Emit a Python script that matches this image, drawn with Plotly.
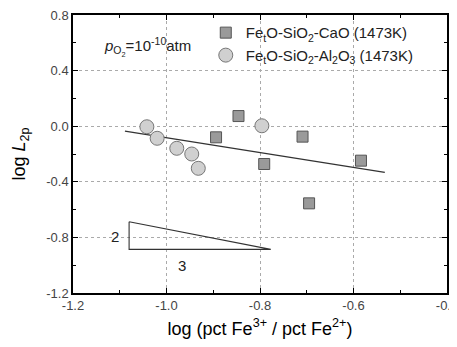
import plotly.graph_objects as go

# Data
cao_x = [-0.894, -0.846, -0.791, -0.709, -0.695, -0.584]
cao_y = [-0.08, 0.073, -0.272, -0.075, -0.555, -0.248]
al_x = [-1.042, -1.020, -0.978, -0.946, -0.932, -0.796]
al_y = [-0.004, -0.087, -0.159, -0.20, -0.303, 0.003]
fit_x = [-1.089, -0.533]
fit_y = [-0.035, -0.332]
tri_x = [-1.080, -1.080, -0.777, -1.080]
tri_y = [-0.687, -0.886, -0.886, -0.687]
x_ticks = [-1.2, -1.0, -0.8, -0.6, -0.4]
x_ticklabels = ["-1.2", "-1.0", "-0.8", "-0.6", "-0.4"]
y_ticks = [-1.2, -0.8, -0.4, 0.0, 0.4, 0.8]
y_ticklabels = ["-1.2", "-0.8", "-0.4", "0.0", "0.4", "0.8"]

FONT = "Liberation Sans, Arial, sans-serif"

fig = go.Figure()
fig.add_trace(go.Scatter(x=fit_x, y=fit_y, mode="lines",
                         line=dict(color="#333333", width=1.3), showlegend=False))
fig.add_trace(go.Scatter(x=tri_x, y=tri_y, mode="lines",
                         line=dict(color="#333333", width=1.1), showlegend=False))
fig.add_trace(go.Scatter(x=cao_x, y=cao_y, mode="markers",
                         name="Fe<sub>t</sub>O-SiO<sub>2</sub>-CaO (1473K)",
                         marker=dict(symbol="square", size=11, color="#9a9a9a",
                                     line=dict(color="#555555", width=1))))
fig.add_trace(go.Scatter(x=al_x, y=al_y, mode="markers",
                         name="Fe<sub>t</sub>O-SiO<sub>2</sub>-Al<sub>2</sub>O<sub>3</sub> (1473K)",
                         marker=dict(symbol="circle", size=14, color="#d0d0d0",
                                     line=dict(color="#777777", width=1))))

axis_common = dict(showline=True, linecolor="black", linewidth=1.5, mirror="ticks",
                   ticks="inside", ticklen=5, tickwidth=1, tickcolor="black",
                   showgrid=True, gridcolor="#aaaaaa", griddash="dot", gridwidth=1,
                   zeroline=False, automargin=False, ticklabeloverflow="allow",
                   tickfont=dict(family=FONT, size=13, color="#444444"))

fig.update_xaxes(range=[-1.2, -0.4], tickvals=x_ticks, ticktext=x_ticklabels,
                 minor=dict(ticks="inside", ticklen=3, dtick=0.1, tick0=-1.2, showgrid=False,
                            tickcolor="black"),
                 title=dict(text="log (pct Fe<sup>3+</sup> / pct Fe<sup>2+</sup>)",
                            font=dict(family=FONT, size=18, color="black"), standoff=10),
                 **axis_common)
fig.update_yaxes(range=[-1.2, 0.8], tickvals=y_ticks, ticktext=y_ticklabels,
                 minor=dict(ticks="inside", ticklen=3, dtick=0.2, tick0=-1.2, showgrid=False,
                            tickcolor="black"),
                 title=dict(text="log <i>L</i><sub>2p</sub>",
                            font=dict(family=FONT, size=18, color="black"), standoff=16),
                 **axis_common)

fig.add_annotation(x=-1.041, y=0.57, xref="x", yref="y", showarrow=False,
                   text="<i>p</i><sub>O<sub>2</sub></sub>=10<sup>-10</sup>atm",
                   font=dict(family=FONT, size=15, color="#222222"))
fig.add_annotation(x=-1.11, y=-0.795, xref="x", yref="y", showarrow=False,
                   text="2", font=dict(family=FONT, size=15, color="#222222"))
fig.add_annotation(x=-0.967, y=-1.0, xref="x", yref="y", showarrow=False,
                   text="3", font=dict(family=FONT, size=15, color="#222222"))

# page body has an 8px margin; margins compensate so the plot sits where the reference has it
fig.update_layout(width=457, height=347, margin=dict(l=65, r=18, t=7, b=62),
                  plot_bgcolor="white", paper_bgcolor="white",
                  legend=dict(x=0.355, y=0.995, xanchor="left", yanchor="top",
                              bgcolor="rgba(0,0,0,0)", borderwidth=0,
                              font=dict(family=FONT, size=15, color="#222222"),
                              itemwidth=30, tracegroupgap=0))

fig.write_html("out.html")
